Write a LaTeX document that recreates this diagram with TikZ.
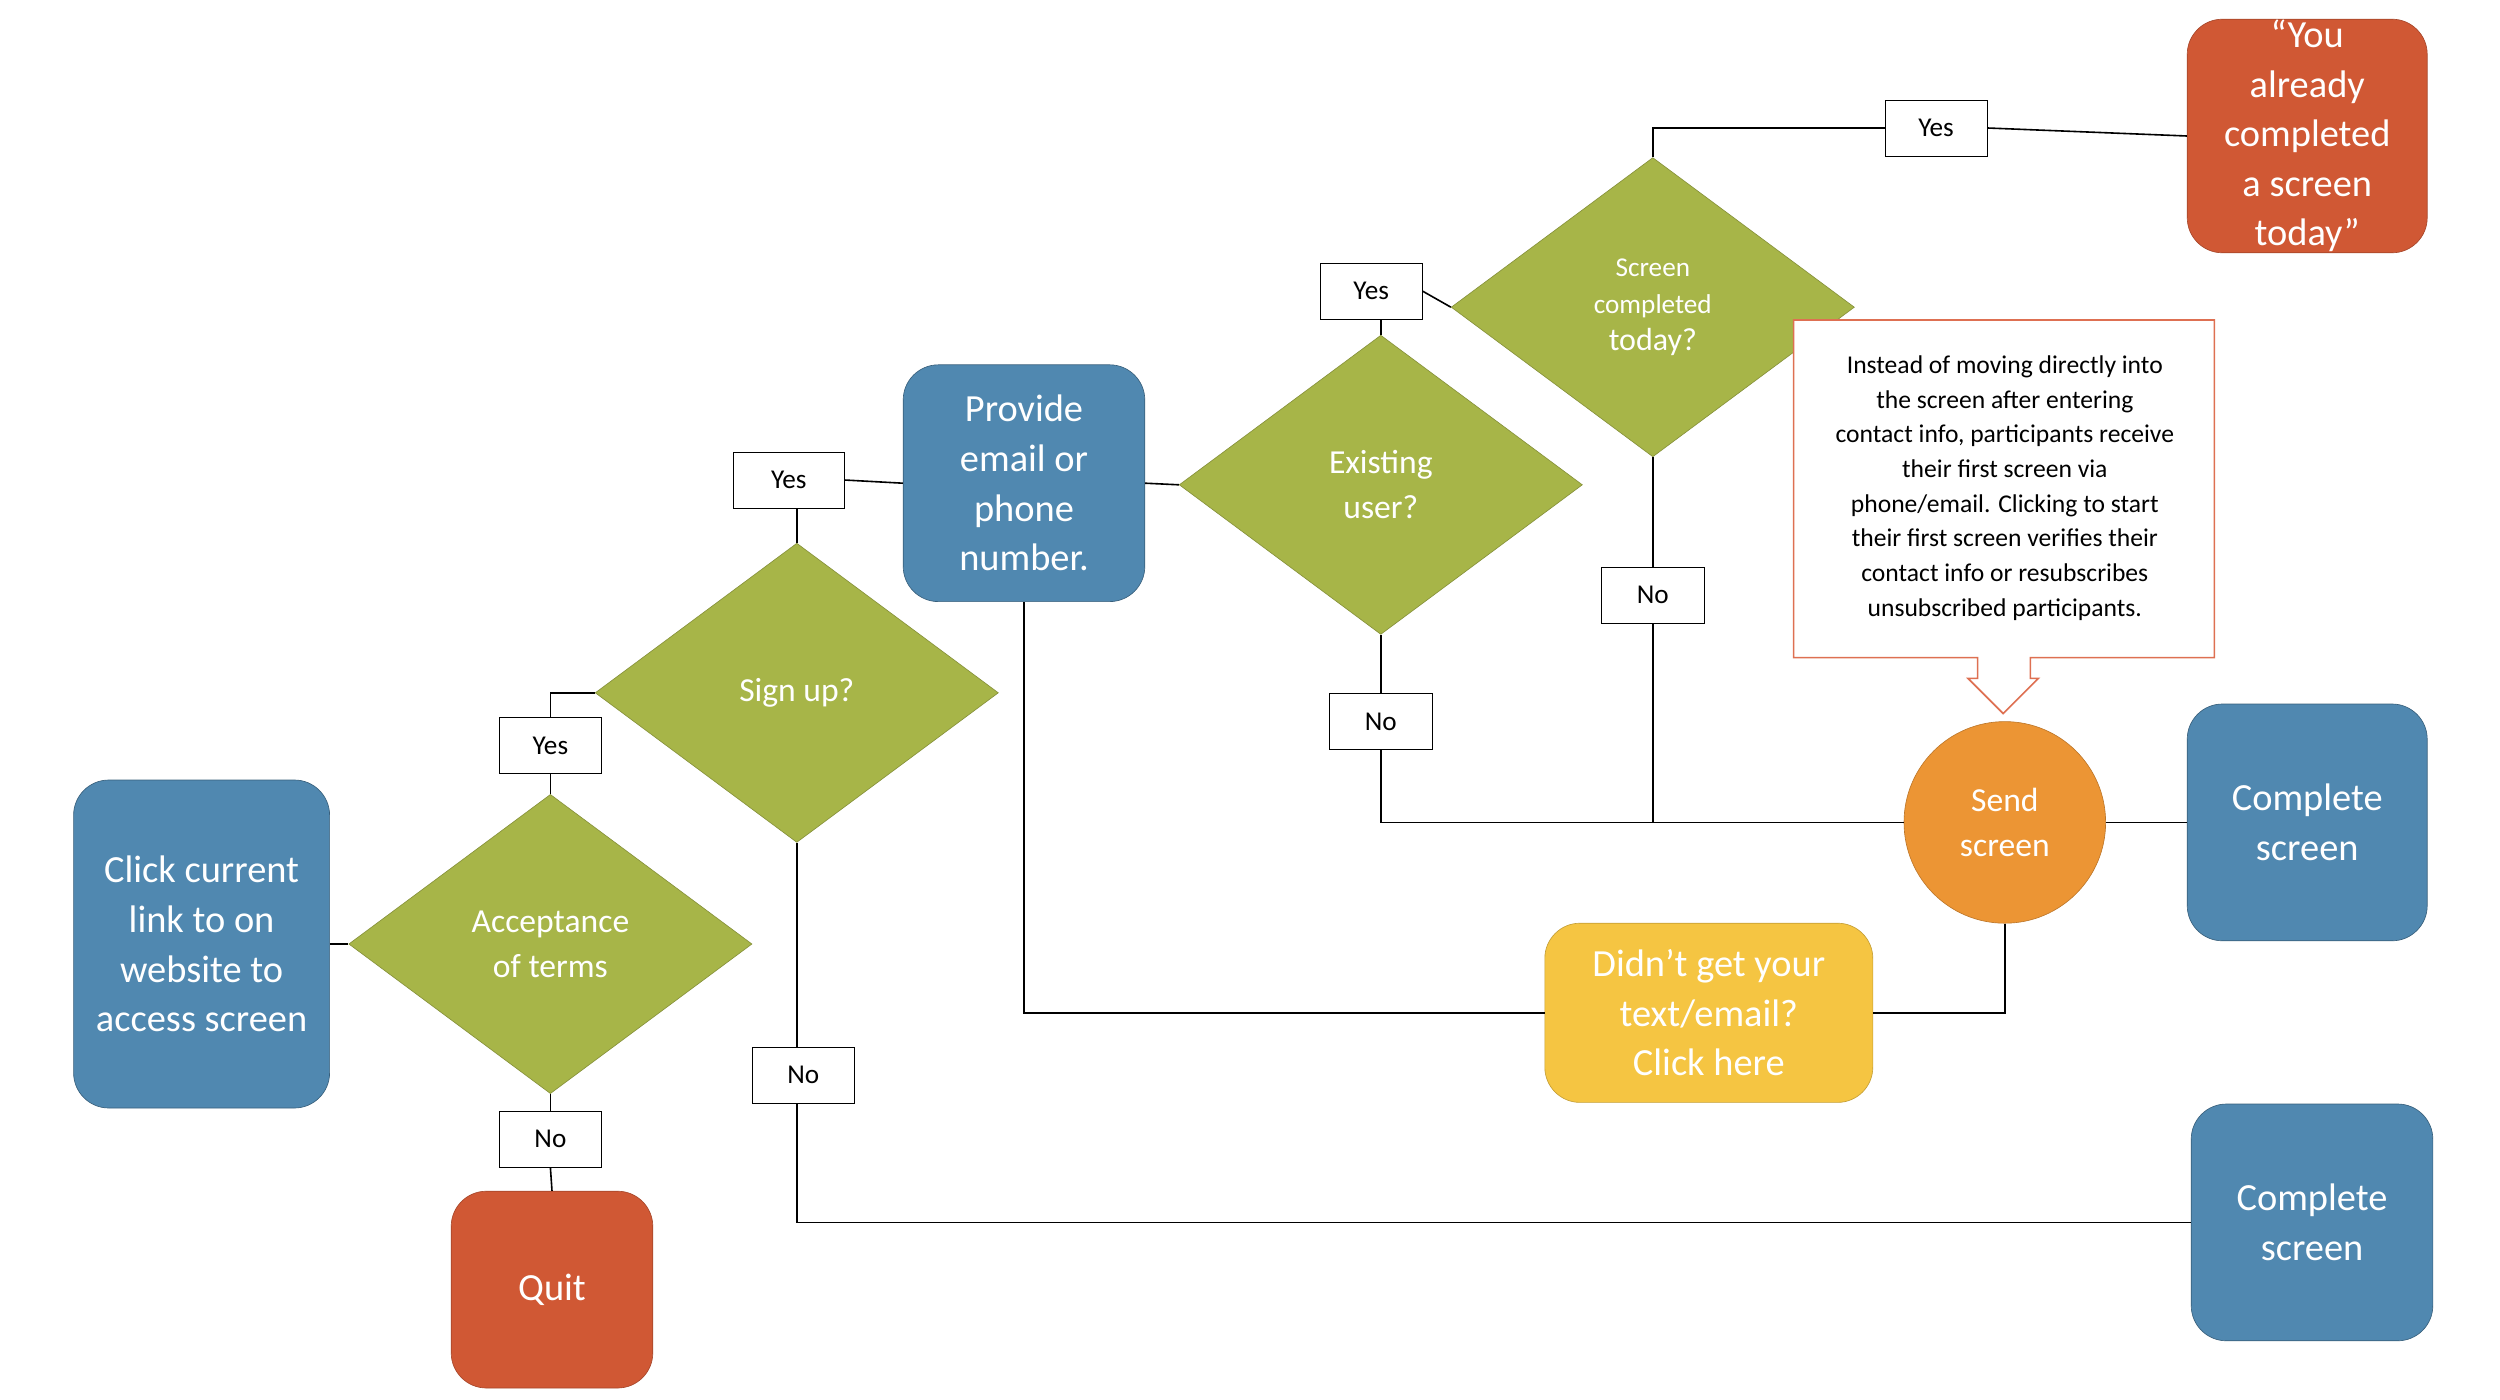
\documentclass[tikz,border=0pt]{standalone}
\usepackage{fontspec}
\setmainfont{Carlito}
\usetikzlibrary{shapes.geometric,shapes.arrows}
\definecolor{stepblue}{RGB}{80,136,176}
\definecolor{stepgreen}{RGB}{167,181,72}
\definecolor{stepred}{RGB}{208,88,52}
\definecolor{steporange}{RGB}{236,149,52}
\definecolor{stepyellow}{RGB}{245,197,66}
\definecolor{noteline}{RGB}{222,112,82}
\tikzset{
  stage/.style={rounded corners=22pt, fill=stepblue, draw=stepblue!70!black, text=white,
    align=center, font=\fontsize{24}{31}\selectfont, inner sep=0pt},
  choice/.style={diamond, fill=stepgreen, draw=stepgreen!80!black, text=white, align=center,
    minimum width=252pt, minimum height=187pt, inner sep=0pt, font=\fontsize{21}{28}\selectfont},
  answer/.style={draw, fill=white, minimum width=64pt, minimum height=35pt, inner sep=0pt,
    font=\fontsize{17}{20}\selectfont},
  link/.style={draw, line width=1pt},
}
\begin{document}
\begin{tikzpicture}[x=1pt, y=-1pt]
\useasboundingbox (0,0) rectangle (1562.5,874.4);
% boxes
\node [stage, minimum width=160pt, minimum height=205pt] (click) at (126,590) {Click current\\link to on\\website to\\access screen};
\node [stage, fill=stepred, draw=stepred!80!black, minimum width=126pt, minimum height=123pt] (quit) at (345,806) {Quit};
\node [stage, minimum width=151pt, minimum height=148pt] (provide) at (640,302) {Provide\\email or\\phone\\number.};
\node [stage, fill=stepred, draw=stepred!80!black, minimum width=150pt, minimum height=146pt] (already) at (1442,85) {“You\\already\\completed\\a screen\\today”};
\node [stage, minimum width=150pt, minimum height=148pt] (done-1) at (1442,514) {Complete\\screen};
\node [stage, minimum width=151pt, minimum height=148pt] (done-2) at (1445,764) {Complete\\screen};
\node [stage, fill=stepyellow, draw=stepyellow!80!black, minimum width=205pt, minimum height=112pt] (resend) at (1068,633) {Didn’t get your\\text/email?\\Click here};
\node [circle, fill=steporange, draw=steporange!80!black, text=white, minimum size=126pt, inner sep=0pt,
  align=center, font=\fontsize{21}{28}\selectfont] (send) at (1253,514) {Send\\screen};
% decisions
\node [choice] (terms) at (344,590) {Acceptance\\of terms};
\node [choice] (signup) at (498,433) {Sign up?};
\node [choice] (existing) at (863,303) {Existing\\user?};
\node [choice, font=\fontsize{17}{23}\selectfont] (today) at (1033,192) {Screen\\completed\\{\fontsize{20}{23}\selectfont today?}};
% answers
\node [answer] (terms-yes) at (344,466) {Yes};
\node [answer] (terms-no) at (344,712) {No};
\node [answer, minimum width=69pt] (signup-yes) at (493,300) {Yes};
\node [answer] (signup-no) at (502,672) {No};
\node [answer] (existing-yes) at (857,182) {Yes};
\node [answer] (existing-no) at (863,451) {No};
\node [answer] (today-yes) at (1210,80) {Yes};
\node [answer] (today-no) at (1033,372) {No};
% connectors
\draw [link] (click.east) -- (terms.west);
\draw [link] (terms.north) -- (terms-yes.south);
\draw [link] (terms-yes.north) |- (signup.west);
\draw [link] (terms.south) -- (terms-no.north);
\draw [link] (terms-no.south) -- (quit.north);
\draw [link] (signup.north) -- (signup-yes.south -| signup.north);
\draw [link] (signup-yes.east) -- (provide.west);
\draw [link] (signup.south) -- (signup-no.north -| signup.south);
\draw [link] (signup-no.south -| signup.south) |- (done-2.west);
\draw [link] (provide.east) -- (existing.west);
\draw [link] (existing.north) -- (existing-yes.south -| existing.north);
\draw [link] (existing-yes.east) -- (today.west);
\draw [link] (today.north) |- (today-yes.west);
\draw [link] (today-yes.east) -- (already.west);
\draw [link] (existing.south) -- (existing-no.north);
\draw [link] (existing-no.south) |- (send.west);
\draw [link] (today.south) -- (today-no.north);
\draw [link] (today-no.south) -- (today-no.south |- send.west);
\draw [link] (send.east) -- (done-1.west);
\draw [link] (send.south) |- (resend.east);
\draw [link] (resend.west) -| (provide.south);
% note
\draw [noteline, fill=white, line width=1pt]
  (1121,200) -- (1384,200) -- (1384,411) -- (1269,411) -- (1269,424) -- (1274,424)
  -- (1252,446) -- (1230,424) -- (1236,424) -- (1236,411) -- (1121,411) -- cycle;
\node [align=center, font=\fontsize{16}{21.7}\selectfont] (note) at (1253,305)
  {Instead of moving directly into\\the screen after entering\\contact info, participants receive\\their first screen via\\phone/email. Clicking to start\\their first screen verifies their\\contact info or resubscribes\\unsubscribed participants.};
\end{tikzpicture}
\end{document}
